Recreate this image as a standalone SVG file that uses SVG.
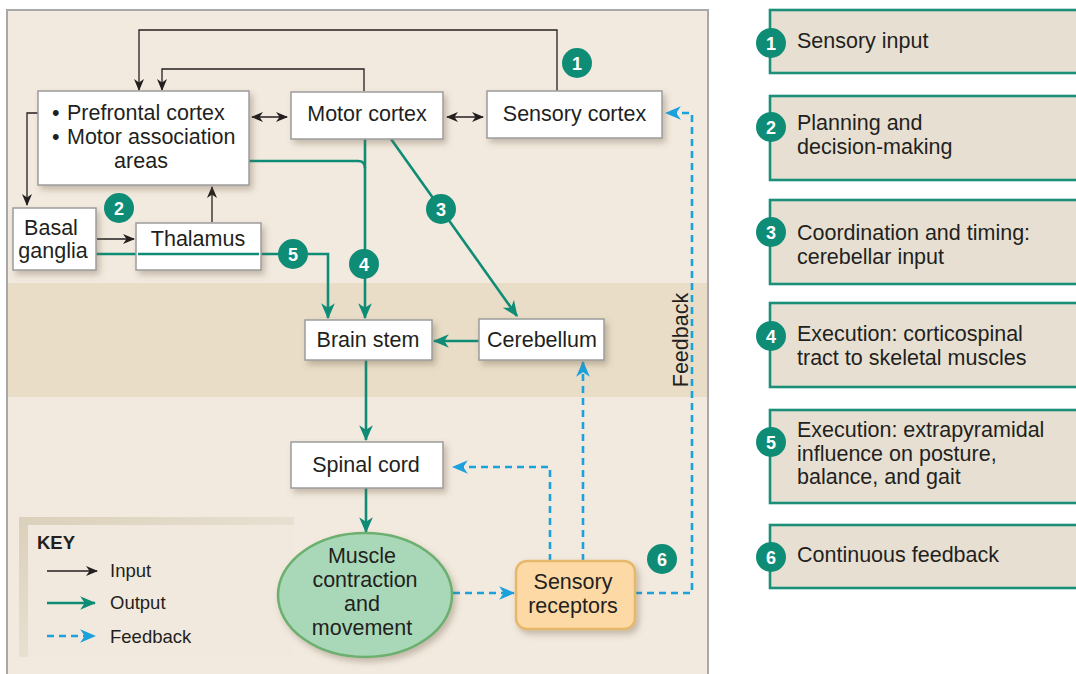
<svg xmlns="http://www.w3.org/2000/svg" width="1076" height="674" viewBox="0 0 1076 674">
  <defs>
    <style>
      text { font-family: "Liberation Sans", Arial, sans-serif; fill: #231f20; }
      .t { font-size: 21.5px; }
      .mid { text-anchor: middle; }
      .box { fill: #ffffff; stroke: #9c9c9c; stroke-width: 1.5; filter: url(#shadow); }
      .in { fill: none; stroke: #231f20; stroke-width: 1.3; }
      .out { fill: none; stroke: #0f8c76; stroke-width: 2.6; }
      .fb { fill: none; stroke: #1ba1dc; stroke-width: 2.6; stroke-dasharray: 7 5; }
      .num circle { fill: #0f8c76; }
      .num text { fill: #ffffff; font-weight: bold; font-size: 18px; text-anchor: middle; }
      .leg rect { fill: #e7e0d2; stroke: #1b8f78; stroke-width: 2.6; }
      .key text { font-size: 18.5px; }
    </style>
    <filter id="shadow" x="-20%" y="-30%" width="150%" height="170%">
      <feDropShadow dx="3" dy="4" stdDeviation="3" flood-color="#6b5a40" flood-opacity="0.35"/>
    </filter>
    <marker id="ahIn" viewBox="0 0 12 10" refX="11" refY="5" markerWidth="12" markerHeight="10" markerUnits="userSpaceOnUse" orient="auto-start-reverse">
      <path d="M0,0 L12,5 L0,10 L3.5,5 z" fill="#231f20"/>
    </marker>
    <marker id="ahOut" viewBox="0 0 14 12" refX="13" refY="6" markerWidth="16" markerHeight="14" markerUnits="userSpaceOnUse" orient="auto">
      <path d="M0,0 L14,6 L0,12 L4,6 z" fill="#0f8c76"/>
    </marker>
    <marker id="ahFb" viewBox="0 0 14 12" refX="13" refY="6" markerWidth="16" markerHeight="14" markerUnits="userSpaceOnUse" orient="auto">
      <path d="M0,0 L14,6 L0,12 L4,6 z" fill="#1ba1dc"/>
    </marker>
    <linearGradient id="keyFrame" x1="0" y1="0" x2="1" y2="1">
      <stop offset="0" stop-color="#dad0bb"/>
      <stop offset="0.6" stop-color="#eae2d4"/>
      <stop offset="1" stop-color="#f1e9de"/>
    </linearGradient>
  </defs>

  <!-- page -->
  <rect x="0" y="0" width="1076" height="674" fill="#ffffff"/>

  <!-- main panel with brain-stem band -->
  <g id="panel">
    <rect x="7" y="10" width="701" height="670" fill="#f2eadf"/>
    <rect x="8" y="283" width="699" height="114" fill="#e9ddc8"/>
    <path d="M7,680 V10 H708 V680" fill="none" stroke="#a8a8a8" stroke-width="2"/>
  </g>

  <!-- key -->
  <g id="key" class="key">
    <rect x="19" y="517" width="275" height="140" fill="url(#keyFrame)"/>
    <rect x="28" y="525" width="266" height="132" fill="#f1e9de"/>
    <text x="37" y="549" font-weight="bold" font-size="18px">KEY</text>
    <line x1="47" y1="571" x2="97" y2="571" class="in" marker-end="url(#ahIn)"/>
    <text x="110" y="577">Input</text>
    <line x1="47" y1="603" x2="95" y2="603" class="out" marker-end="url(#ahOut)"/>
    <text x="110" y="609">Output</text>
    <line x1="47" y1="636" x2="95" y2="636" class="fb" stroke-dasharray="6 4" marker-end="url(#ahFb)"/>
    <text x="110" y="643">Feedback</text>
  </g>

  <!-- connectors -->
  <g id="connectors">
    <!-- input (black) -->
    <path class="in" d="M557,91 V30 H139 V90" marker-end="url(#ahIn)"/>
    <path class="in" d="M364,91 V69 H162 V90" marker-end="url(#ahIn)"/>
    <line class="in" x1="252" y1="117" x2="287" y2="117" marker-start="url(#ahIn)" marker-end="url(#ahIn)"/>
    <line class="in" x1="447" y1="117" x2="483" y2="117" marker-start="url(#ahIn)" marker-end="url(#ahIn)"/>
    <path class="in" d="M38,113 H27 V205" marker-end="url(#ahIn)"/>
    <line class="in" x1="97" y1="239" x2="134" y2="239" stroke-width="2.2" marker-end="url(#ahIn)"/>
    <line class="in" x1="212" y1="222" x2="212" y2="187" stroke-width="1.6" marker-end="url(#ahIn)"/>

    <!-- output (green) -->
    <path class="out" d="M249,161 H358 Q365,161 365,168"/>
    <line class="out" x1="365" y1="139" x2="365" y2="318" marker-end="url(#ahOut)"/>
    <path class="out" d="M96,254 H328 V318" marker-end="url(#ahOut)"/>
    <line class="out" x1="391" y1="139" x2="517" y2="316" marker-end="url(#ahOut)"/>
    <line class="out" x1="479" y1="341" x2="434" y2="341" marker-end="url(#ahOut)"/>
    <line class="out" x1="366" y1="360" x2="366" y2="440" marker-end="url(#ahOut)"/>
    <line class="out" x1="366" y1="488" x2="366" y2="532" marker-end="url(#ahOut)"/>

    <!-- feedback (blue dashed) -->
    <line class="fb" x1="453" y1="593" x2="514" y2="593" marker-end="url(#ahFb)"/>
    <path class="fb" d="M550,561 V467 H453" marker-end="url(#ahFb)"/>
    <line class="fb" x1="583" y1="561" x2="583" y2="362" marker-end="url(#ahFb)"/>
    <path class="fb" d="M635,593 H692 V113 H666" marker-end="url(#ahFb)"/>
  </g>

  <text x="688" y="340" class="t mid" transform="rotate(-90 688 340)">Feedback</text>

  <!-- nodes -->
  <g id="prefrontal">
    <rect class="box" x="38" y="91" width="211" height="94"/>
    <text x="52" y="120" class="t">•</text>
    <text x="67" y="120" class="t">Prefrontal cortex</text>
    <text x="52" y="144" class="t">•</text>
    <text x="67" y="144" class="t">Motor association</text>
    <text x="141" y="168" class="t mid">areas</text>
  </g>
  <g id="motor-cortex">
    <rect class="box" x="291" y="92" width="152" height="47"/>
    <text x="367" y="121" class="t mid">Motor cortex</text>
  </g>
  <g id="sensory-cortex">
    <rect class="box" x="487" y="91" width="175" height="47"/>
    <text x="574.5" y="121" class="t mid">Sensory cortex</text>
  </g>
  <g id="basal-ganglia">
    <rect class="box" x="13" y="208" width="83" height="62"/>
    <text x="51" y="235" class="t mid">Basal</text>
    <text x="53" y="258" class="t mid">ganglia</text>
  </g>
  <g id="thalamus">
    <rect class="box" x="136" y="223" width="125" height="47"/>
    <text x="198" y="246" class="t mid">Thalamus</text>
    <line x1="138" y1="254" x2="259" y2="254" stroke="#0f8c76" stroke-width="2.6"/>
  </g>
  <g id="brain-stem">
    <rect class="box" x="305" y="320" width="127" height="40"/>
    <text x="368" y="347" class="t mid">Brain stem</text>
  </g>
  <g id="cerebellum">
    <rect class="box" x="479" y="319" width="125" height="41"/>
    <text x="542" y="347" class="t mid">Cerebellum</text>
  </g>
  <g id="spinal-cord">
    <rect class="box" x="291" y="442" width="152" height="46"/>
    <text x="366" y="472" class="t mid">Spinal cord</text>
  </g>
  <g id="muscle">
    <ellipse cx="365" cy="595" rx="87" ry="62" fill="#a8d8b8" stroke="#6caf6e" stroke-width="2.5" filter="url(#shadow)"/>
    <text x="362" y="563" class="t mid">Muscle</text>
    <text x="365" y="587" class="t mid">contraction</text>
    <text x="362" y="611" class="t mid">and</text>
    <text x="362" y="635" class="t mid">movement</text>
  </g>
  <g id="sensory-receptors">
    <rect x="516" y="561" width="119" height="68" rx="11" fill="#fdd9a6" stroke="#e6b96a" stroke-width="2.5" filter="url(#shadow)"/>
    <text x="573" y="589" class="t mid">Sensory</text>
    <text x="573" y="613" class="t mid">receptors</text>
  </g>

  <!-- step numbers on the diagram -->
  <g id="markers" class="num">
    <g><circle cx="577" cy="63" r="15"/><text x="577" y="69.5">1</text></g>
    <g><circle cx="119" cy="208" r="15"/><text x="119" y="214.5">2</text></g>
    <g><circle cx="441" cy="209" r="15"/><text x="441" y="215.5">3</text></g>
    <g><circle cx="364" cy="264" r="15"/><text x="364" y="270.5">4</text></g>
    <g><circle cx="293" cy="254" r="15"/><text x="293" y="260.5">5</text></g>
    <g><circle cx="662" cy="559" r="15"/><text x="662" y="565.5">6</text></g>
  </g>

  <!-- legend of steps -->
  <g id="step1" class="leg">
    <rect x="770" y="10" width="320" height="63"/>
    <g class="num"><circle cx="771" cy="43" r="15"/><text x="771" y="49.5">1</text></g>
    <text x="797" y="48" class="t">Sensory input</text>
  </g>
  <g id="step2" class="leg">
    <rect x="770" y="96" width="320" height="84"/>
    <g class="num"><circle cx="771" cy="127" r="15"/><text x="771" y="133.5">2</text></g>
    <text x="797" y="130" class="t">Planning and</text>
    <text x="797" y="154" class="t">decision-making</text>
  </g>
  <g id="step3" class="leg">
    <rect x="770" y="200" width="320" height="84"/>
    <g class="num"><circle cx="771" cy="232" r="15"/><text x="771" y="238.5">3</text></g>
    <text x="797" y="240" class="t">Coordination and timing:</text>
    <text x="797" y="264" class="t">cerebellar input</text>
  </g>
  <g id="step4" class="leg">
    <rect x="770" y="303" width="320" height="84"/>
    <g class="num"><circle cx="771" cy="336" r="15"/><text x="771" y="342.5">4</text></g>
    <text x="797" y="341" class="t">Execution: corticospinal</text>
    <text x="797" y="365" class="t">tract to skeletal muscles</text>
  </g>
  <g id="step5" class="leg">
    <rect x="770" y="410" width="320" height="93"/>
    <g class="num"><circle cx="771" cy="442" r="15"/><text x="771" y="448.5">5</text></g>
    <text x="797" y="437" class="t">Execution: extrapyramidal</text>
    <text x="797" y="461" class="t">influence on posture,</text>
    <text x="797" y="484" class="t">balance, and gait</text>
  </g>
  <g id="step6" class="leg">
    <rect x="770" y="525" width="320" height="63"/>
    <g class="num"><circle cx="771" cy="557" r="15"/><text x="771" y="563.5">6</text></g>
    <text x="797" y="562" class="t">Continuous feedback</text>
  </g>
</svg>
